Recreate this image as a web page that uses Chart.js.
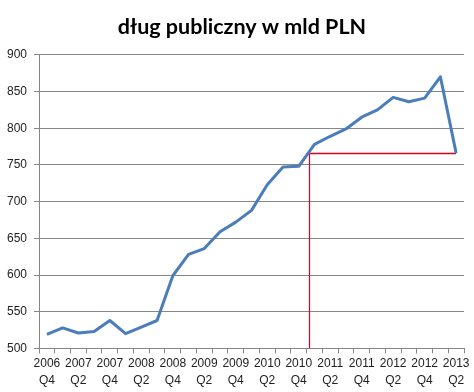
<!DOCTYPE html>
<html>
<head>
<meta charset="utf-8">
<script src="https://cdn.jsdelivr.net/npm/chart.js@4"></script>
<style>
  body { margin: 0; background: #fff; }
  #dlug { display: block; }
</style>
</head>
<body>
<canvas id="dlug" width="474" height="392"></canvas>
<script>
// kwartaly od 2006 Q4 do 2013 Q2
var kwartaly = ['2006 Q4','2007 Q1','2007 Q2','2007 Q3','2007 Q4','2008 Q1','2008 Q2','2008 Q3','2008 Q4',
    '2009 Q1','2009 Q2','2009 Q3','2009 Q4','2010 Q1','2010 Q2','2010 Q3','2010 Q4',
    '2011 Q1','2011 Q2','2011 Q3','2011 Q4','2012 Q1','2012 Q2','2012 Q3','2012 Q4','2013 Q1','2013 Q2'];
var dlug = [519, 528, 521, 523, 538, 520, 529, 538, 599, 628, 636, 659, 672, 688, 723, 747, 748,
    778, 789, 799, 815, 825, 842, 836, 841, 870, 766];
var osY = [500, 550, 600, 650, 700, 750, 800, 850, 900];

// czerwona linia odniesienia (pozycja na osi kategorii, poziom w mld)
var linia = [16.65, 766];

var liniaPlugin = {
    id: 'linia',
    afterLayout: (chart)=>{
        // tytul troche w prawo, jak w oryginale
        chart.titleBlock.left = 10;
        chart.titleBlock.right = chart.width;
    },
    beforeDatasetsDraw: (chart)=>{
        var x = chart.scales.x, y = chart.scales.y, ctx = chart.ctx;
        var px = Math.round(x.getPixelForValue(linia[0])) + 0.5;
        var py = Math.round(y.getPixelForValue(linia[1])) + 0.5;
        var pend = x.getPixelForValue(kwartaly.length - 1);
        ctx.save();
        ctx.strokeStyle = '#e0001a';
        ctx.lineWidth = 1.2;
        ctx.beginPath();
        ctx.moveTo(px, y.getPixelForValue(osY[0]));
        ctx.lineTo(px, py);
        ctx.stroke();
        ctx.lineWidth = 1.6;
        ctx.beginPath();
        ctx.moveTo(px, py);
        ctx.lineTo(pend, py);
        ctx.stroke();
        ctx.restore();
    }
};

var ctx = document.getElementById('dlug');
var myChart = new Chart(ctx, {
    type: 'line',
    data: {
        labels: kwartaly,
        datasets: [{
            label: 'dług publiczny',
            data: dlug,
            borderColor: '#4a7ebb',
            borderWidth: 3,
            pointRadius: 0,
            tension: 0,
            borderJoinStyle: 'round'
        }]
    },
    options: {
        responsive: false,
        animation: false,
        layout: { padding: { left: 0, right: 10, top: 0, bottom: 1 } },
        plugins: {
            legend: { display: false },
            tooltip: { enabled: false },
            title: {
                display: true,
                text: 'dług publiczny w mld PLN',
                color: '#000',
                font: { family: 'Lato', size: 21.5, weight: 'bold' },
                padding: { top: 14, bottom: 15 }
            }
        },
        scales: {
            x: {
                offset: true,
                grid: { offset: true, drawOnChartArea: false, drawTicks: true, tickLength: 5, color: '#878787' },
                border: { color: '#878787' },
                ticks: {
                    autoSkip: false,
                    maxRotation: 0,
                    padding: 2,
                    color: '#222',
                    font: { family: 'Liberation Sans', size: 12, lineHeight: 1.4 },
                    callback: (v, i)=> i % 2 == 0 ? kwartaly[i].split(' ') : ''
                }
            },
            y: {
                min: osY[0],
                max: osY[osY.length - 1],
                afterBuildTicks: (axis)=>{ axis.ticks = osY.map(v => ({ value: v })); },
                grid: { color: '#878787', tickLength: 5 },
                border: { color: '#878787' },
                ticks: {
                    padding: 7,
                    color: '#222',
                    font: { family: 'Liberation Sans', size: 12 }
                }
            }
        }
    },
    plugins: [liniaPlugin]
});
</script>
</body>
</html>
